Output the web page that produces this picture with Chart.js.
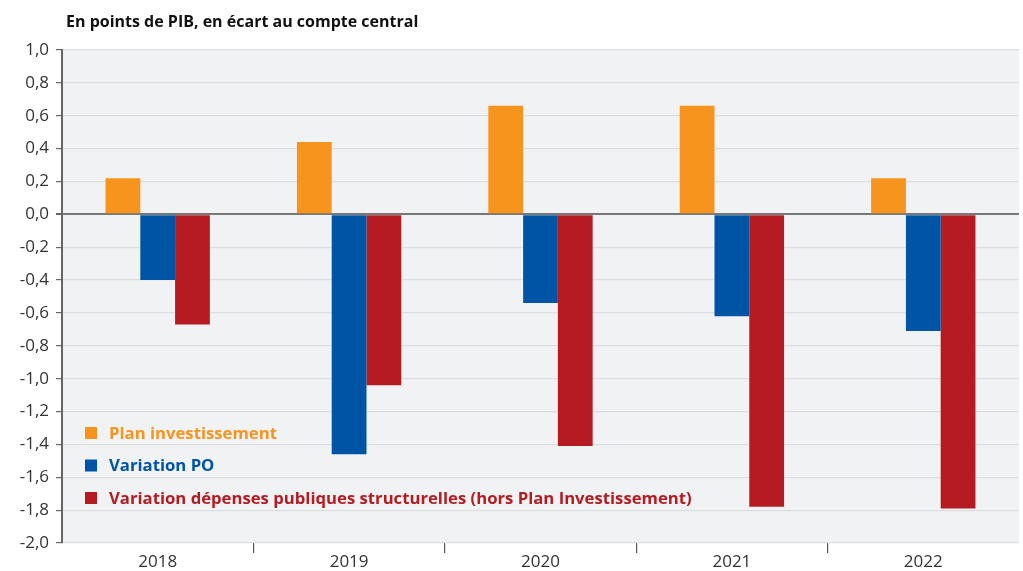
<!DOCTYPE html>
<html lang="fr">
<head>
    <meta charset="UTF-8">
    <title>Écart au compte central</title>
    <script src="https://cdn.jsdelivr.net/npm/chart.js"></script>
    <style>
        html, body { margin: 0; padding: 0; background: #ffffff; }
        #wrap { width: 1023px; height: 571px; position: relative; }
    </style>
</head>
<body>
<div id="wrap"><canvas id="myChart" width="1023" height="571"></canvas></div>

<script>
  // Data
  var years = ['2018', '2019', '2020', '2021', '2022'];
  var planInvest = [0.22, 0.44, 0.66, 0.66, 0.22];
  var variationPO = [-0.40, -1.46, -0.54, -0.62, -0.71];
  var variationDep = [-0.67, -1.04, -1.41, -1.78, -1.79];
  var seriesNames = ['Plan investissement', 'Variation PO',
    'Variation dépenses publiques structurelles (hors Plan Investissement)'];
  var seriesColors = ['#F7941D', '#0054A6', '#B51C22'];

  var FONT = '"Open Sans", "Noto Sans", sans-serif';

  // grey plot background + title + legend drawn inside the plot
  var decor = {
    id: 'decor',
    beforeDraw: function(chart) {
      var c = chart.ctx, a = chart.chartArea;
      c.save();
      c.fillStyle = '#F1F2F4';
      c.fillRect(a.left, a.top, a.right - a.left, a.bottom - a.top);
      c.restore();
    },
    afterDraw: function(chart) {
      var c = chart.ctx;
      c.save();
      c.font = 'bold 16px ' + FONT;
      c.fillStyle = '#111111';
      c.textBaseline = 'middle';
      c.fillText('En points de PIB, en écart au compte central', 66, 22);

      c.font = 'bold 16.7px ' + FONT;
      var y0 = 433, dy = 32.5;
      chart.data.datasets.forEach(function(ds, i) {
        var y = y0 + i * dy;
        c.fillStyle = ds.backgroundColor;
        c.fillRect(85, y - 6, 12, 12);
        c.fillText(ds.label, 109, y + 1);
      });
      c.restore();
    }
  };

  var ctx = document.getElementById('myChart').getContext('2d');
  var myChart = new Chart(ctx, {
    type: 'bar',
    data: {
      labels: years,
      datasets: [
        { label: seriesNames[0], data: planInvest, backgroundColor: seriesColors[0] },
        { label: seriesNames[1], data: variationPO, backgroundColor: seriesColors[1] },
        { label: seriesNames[2], data: variationDep, backgroundColor: seriesColors[2] }
      ]
    },
    options: {
      responsive: false,
      animation: false,
      barPercentage: 1.0,
      categoryPercentage: 0.545,
      layout: { padding: { left: 0, right: 4, top: 50, bottom: 0 } },
      plugins: {
        legend: { display: false },
        tooltip: { enabled: false }
      },
      scales: {
        x: {
          afterFit: function(scale) { scale.height = 28; },
          border: { display: false },
          grid: {
            offset: true,
            drawOnChartArea: false,
            tickLength: 10,
            lineWidth: 1.2,
            color: function(c) {
              return (c.index === undefined || c.index === 0) ? 'rgba(0,0,0,0)' : '#555555';
            }
          },
          ticks: {
            color: '#333333',
            font: { family: FONT, size: 17 },
            padding: -1
          }
        },
        y: {
          min: -2,
          max: 1,
          afterFit: function(scale) { scale.width = 62; },
          border: { display: true, color: '#666666', width: 2 },
          grid: {
            tickLength: 6,
            tickColor: '#666666',
            color: function(c) {
              return (c.tick && c.tick.value === 0) ? '#777777' : '#DCDDE0';
            },
            lineWidth: function(c) {
              return (c.tick && c.tick.value === 0) ? 2 : 1.2;
            }
          },
          ticks: {
            stepSize: 0.2,
            color: '#333333',
            padding: 7,
            font: { family: FONT, size: 17 },
            callback: function(v) { return v.toFixed(1).replace('.', ','); }
          }
        }
      }
    },
    plugins: [decor]
  });
</script>
</body>
</html>
